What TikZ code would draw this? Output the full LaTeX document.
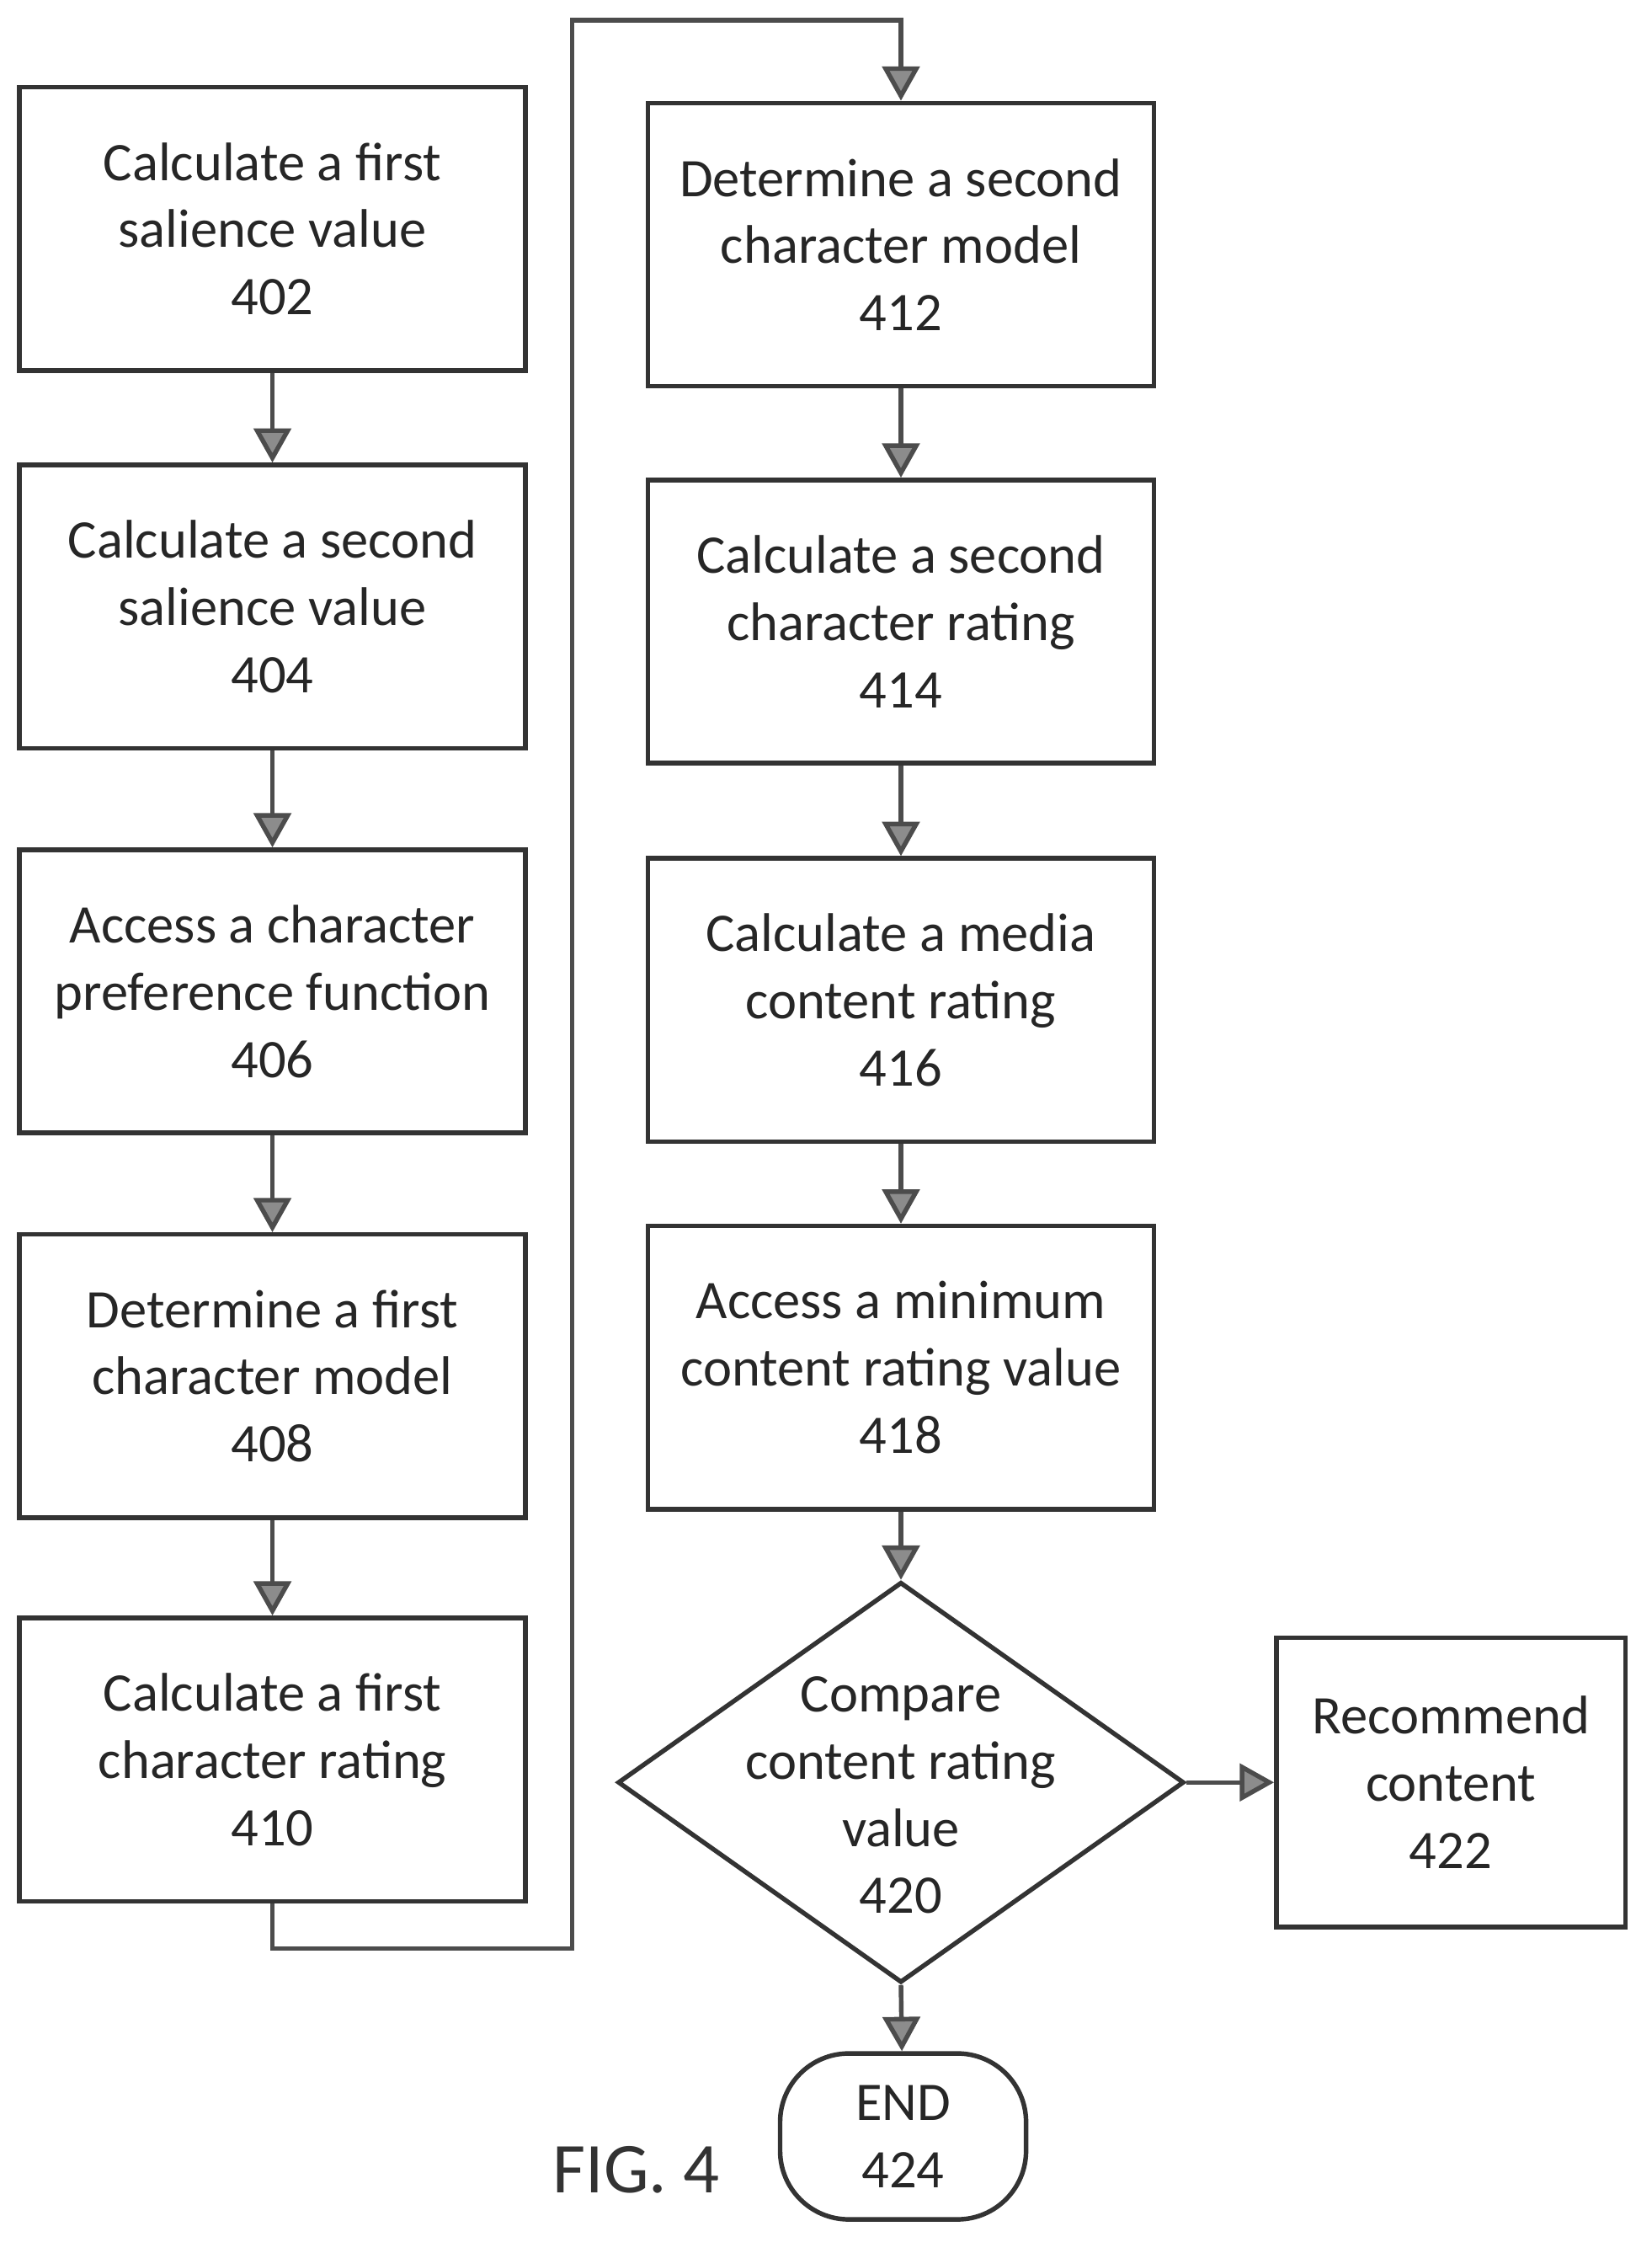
\documentclass[tikz,border=0pt]{standalone}
\usepackage{fontspec}
\setmainfont{Carlito}
\usetikzlibrary{arrows.meta,shapes.geometric}
\begin{document}
\begin{tikzpicture}[x=0.5pt,y=-0.5pt,
  box/.style={draw=black!80,line width=1.6pt,minimum width=177pt,minimum height=99pt,align=center,font=\fontsize{19}{23.5}\selectfont,text=black!85,inner sep=0pt},
  arr/.style={draw=black!70,line width=1.6pt,-{Triangle[length=12pt,width=13pt,fill=black!45]}}]
\useasboundingbox (0,0) rectangle (1155,1575);
\node[box] (a402) at (190.5,160) {Calculate a first\\salience value\\402};
\node[box] (a404) at (190.5,424) {Calculate a second\\salience value\\404};
\node[box] (a406) at (190.5,693) {Access a character\\preference function\\406};
\node[box] (a408) at (190.5,962) {Determine a first\\character model\\408};
\node[box] (a410) at (190.5,1230) {Calculate a first\\character rating\\410};
\node[box] (a412) at (630,171) {Determine a second\\character model\\412};
\node[box] (a414) at (630,434.5) {Calculate a second\\character rating\\414};
\node[box] (a416) at (630,699) {Calculate a media\\content rating\\416};
\node[box] (a418) at (630,956) {Access a minimum\\content rating value\\418};
\node[draw=black!80,line width=1.6pt,diamond,minimum width=198pt,minimum height=140pt,inner sep=0pt] (a420) at (630,1246) {};
\node[align=center,font=\fontsize{19}{23.5}\selectfont,text=black!85] at (630,1255) {Compare\\content rating\\value\\420};
\node[box,minimum width=122pt,minimum height=101pt] (a422) at (1014.5,1246) {Recommend\\content\\422};
\node[draw=black!80,line width=1.6pt,rounded corners=24pt,minimum width=86pt,minimum height=58pt,align=center,font=\fontsize{19}{23.5}\selectfont,text=black!85,inner sep=0pt] (end) at (631.5,1493.5) {END\\424};
\node[font=\fontsize{25}{28}\selectfont,text=black!80] (fig) at (445,1517) {FIG. 4};
\draw[arr] (a402) -- (a404);
\draw[arr] (a404) -- (a406);
\draw[arr] (a406) -- (a408);
\draw[arr] (a408) -- (a410);
\draw[arr] (a410.south) -- (190.5,1362) -- (400,1362) -- (400,14) -- (630,14) -- (a412.north);
\draw[arr] (a412) -- (a414);
\draw[arr] (a414) -- (a416);
\draw[arr] (a416) -- (a418);
\draw[arr] (a418) -- (a420.north);
\draw[arr] (a420.east) -- (a422.west);
\draw[arr] (a420.south) -- (end);
\end{tikzpicture}
\end{document}
